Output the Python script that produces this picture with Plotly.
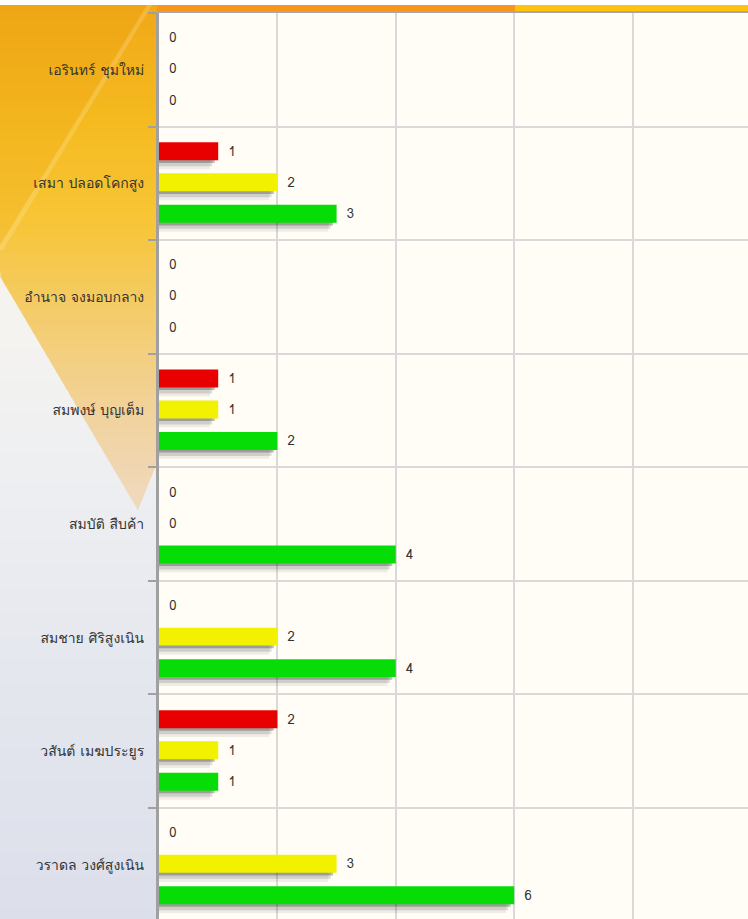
import plotly.graph_objects as go

# ---------------- data ----------------
categories = [
    "เอรินทร์ ชุมใหม่",
    "เสมา ปลอดโคกสูง",
    "อำนาจ จงมอบกลาง",
    "สมพงษ์ บุญเต็ม",
    "สมบัติ สืบค้า",
    "สมชาย ศิริสูงเนิน",
    "วสันต์ เมฆประยูร",
    "วราดล วงศ์สูงเนิน",
]
red_values = [0, 1, 0, 1, 0, 0, 2, 0]
yellow_values = [0, 2, 0, 1, 0, 2, 1, 3]
green_values = [0, 3, 0, 2, 4, 4, 1, 6]
series_names = ["แดง", "เหลือง", "เขียว"]
x_ticks = [0, 2, 4, 6, 8, 10]

# ---------------- styling ----------------
W_FIG, H_FIG = 748, 919
L, T = 159, 13
PW, PH = W_FIG - L, H_FIG - T
colors = ["#e80000", "#f2f200", "#06dc06"]
centers = [-0.282, -0.009, 0.268]
bw = 0.158
FONT = "Loma, Tahoma, 'Noto Sans Thai Looped', 'Noto Sans Thai', sans-serif"


def px(x):
    return (x - L) / PW


def py(y):
    return 1 - (y - T) / PH


def hexmix(c1, c2, t):
    a = [int(c1[i:i + 2], 16) for i in (1, 3, 5)]
    b = [int(c2[i:i + 2], 16) for i in (1, 3, 5)]
    return "rgb(%d,%d,%d)" % tuple(round(a[k] + (b[k] - a[k]) * t) for k in range(3))


def grad(stops, y):
    for (y0, c0), (y1, c1) in zip(stops, stops[1:]):
        if y0 <= y <= y1:
            return hexmix(c0, c1, (y - y0) / (y1 - y0))
    return stops[-1][1] if y > stops[-1][0] else stops[0][1]


fig = go.Figure()

series = [red_values, yellow_values, green_values]

# shadows
shadow_layers = [(0.035, 0.06, 0.30), (0.065, 0.10, 0.15), (0.09, 0.14, 0.08)]
for vals, c in zip(series, centers):
    bottom = c + bw / 2
    for hgt, trim, alpha in shadow_layers:
        fig.add_trace(go.Bar(
            y=categories,
            x=[max(v - trim, 0) if v > 0 else 0 for v in vals],
            orientation="h",
            offset=bottom - 0.012,
            width=hgt,
            marker=dict(color="rgba(40,40,40,%.2f)" % alpha, line=dict(width=0)),
            hoverinfo="skip",
            showlegend=False,
        ))

# bars
for name, vals, col, c in zip(series_names, series, colors, centers):
    fig.add_trace(go.Bar(
        name=name,
        y=categories,
        x=vals,
        orientation="h",
        offset=c - bw / 2,
        width=bw,
        marker=dict(color=col, line=dict(width=0)),
        text=vals,
        texttemplate="\u00a0\u00a0%{x}",
        textposition="outside",
        constraintext="none",
        cliponaxis=False,
        textfont=dict(size=13, color="#333333", family=FONT),
    ))

# ---------------- background decoration ----------------
shapes = []
shapes.append(dict(type="rect", xref="paper", yref="paper", x0=px(0), x1=px(W_FIG),
                   y0=py(0), y1=py(5), fillcolor="#ffffff", line=dict(width=0), layer="below"))
base_stops = [(5, "#f6f4f0"), (330, "#f4f3f0"), (500, "#eceef1"), (700, "#e4e6ee"), (919, "#dcdfea")]
step = 8
y = 5
while y < H_FIG:
    y2 = min(y + step, H_FIG)
    shapes.append(dict(type="rect", xref="paper", yref="paper", x0=px(0), x1=px(157),
                       y0=py(y2 + 0.5), y1=py(y), fillcolor=grad(base_stops, y + step / 2),
                       line=dict(width=0), layer="below"))
    y = y2

tri_stops = [(5, "#f0a818"), (120, "#f5ba20"), (220, "#f7c536"), (330, "#f4cd74"),
             (420, "#f1d3a0"), (510, "#f0d9bf")]


def left_x(yy):
    return max(0.0, 138 - (510 - yy) * 0.59)


def right_x(yy):
    return min(157.0, 138 + (510 - yy) * 0.40)


y = 5
while y < 510:
    y2 = min(y + step, 510)
    pts = [(left_x(y), y), (right_x(y), y), (right_x(y2), y2 + 0.5), (left_x(y2), y2 + 0.5)]
    path = "M " + " L ".join("%f,%f" % (px(a), py(b)) for a, b in pts) + " Z"
    shapes.append(dict(type="path", xref="paper", yref="paper", path=path,
                       fillcolor=grad(tri_stops, y + step / 2), line=dict(width=0), layer="below"))
    y = y2

pts = [(0, 5), (150, 5), (0, 245)]
shapes.append(dict(type="path", xref="paper", yref="paper",
                   path="M " + " L ".join("%f,%f" % (px(a), py(b)) for a, b in pts) + " Z",
                   fillcolor="rgba(232,150,10,0.12)", line=dict(width=0), layer="below"))
pts = [(147, 5), (152, 5), (3, 250), (0, 250), (0, 245)]
shapes.append(dict(type="path", xref="paper", yref="paper",
                   path="M " + " L ".join("%f,%f" % (px(a), py(b)) for a, b in pts) + " Z",
                   fillcolor="rgba(255,240,190,0.22)", line=dict(width=0), layer="below"))

shapes.append(dict(type="rect", xref="paper", yref="paper", x0=px(157), x1=px(515),
                   y0=py(12.5), y1=py(5), fillcolor="#f7951d", line=dict(width=0), layer="below"))
shapes.append(dict(type="rect", xref="paper", yref="paper", x0=px(515), x1=px(W_FIG),
                   y0=py(12.5), y1=py(5), fillcolor="#ffc30d", line=dict(width=0), layer="below"))

fig.update_layout(
    width=W_FIG, height=H_FIG,
    margin=dict(l=L, r=0, t=T, b=0, pad=0),
    barmode="overlay",
    paper_bgcolor="#ffffff",
    plot_bgcolor="#fffdf6",
    showlegend=False,
    font=dict(family=FONT, size=12, color="#333333"),
    shapes=shapes,
    xaxis=dict(
        range=[0, 9.95], tickvals=x_ticks, side="top",
        showticklabels=False, ticks="",
        showgrid=True, gridcolor="#d9d9d9", gridwidth=1.5,
        zeroline=False,
        showline=True, linecolor="#a8a8a8", linewidth=2,
    ),
    yaxis=dict(
        type="category", categoryorder="array", categoryarray=categories,
        range=[7.477, -0.5],
        tickson="boundaries", ticks="outside", ticklen=8, tickcolor="#a0a0a0", tickwidth=1.5,
        showgrid=True, gridcolor="#d9d9d9", gridwidth=1.5,
        showline=True, linecolor="#a0a0a0", linewidth=3,
        tickfont=dict(size=14, color="#333333", family=FONT),
        ticklabelstandoff=9,
        automargin=False,
    ),
)

fig.write_html("out.html")
